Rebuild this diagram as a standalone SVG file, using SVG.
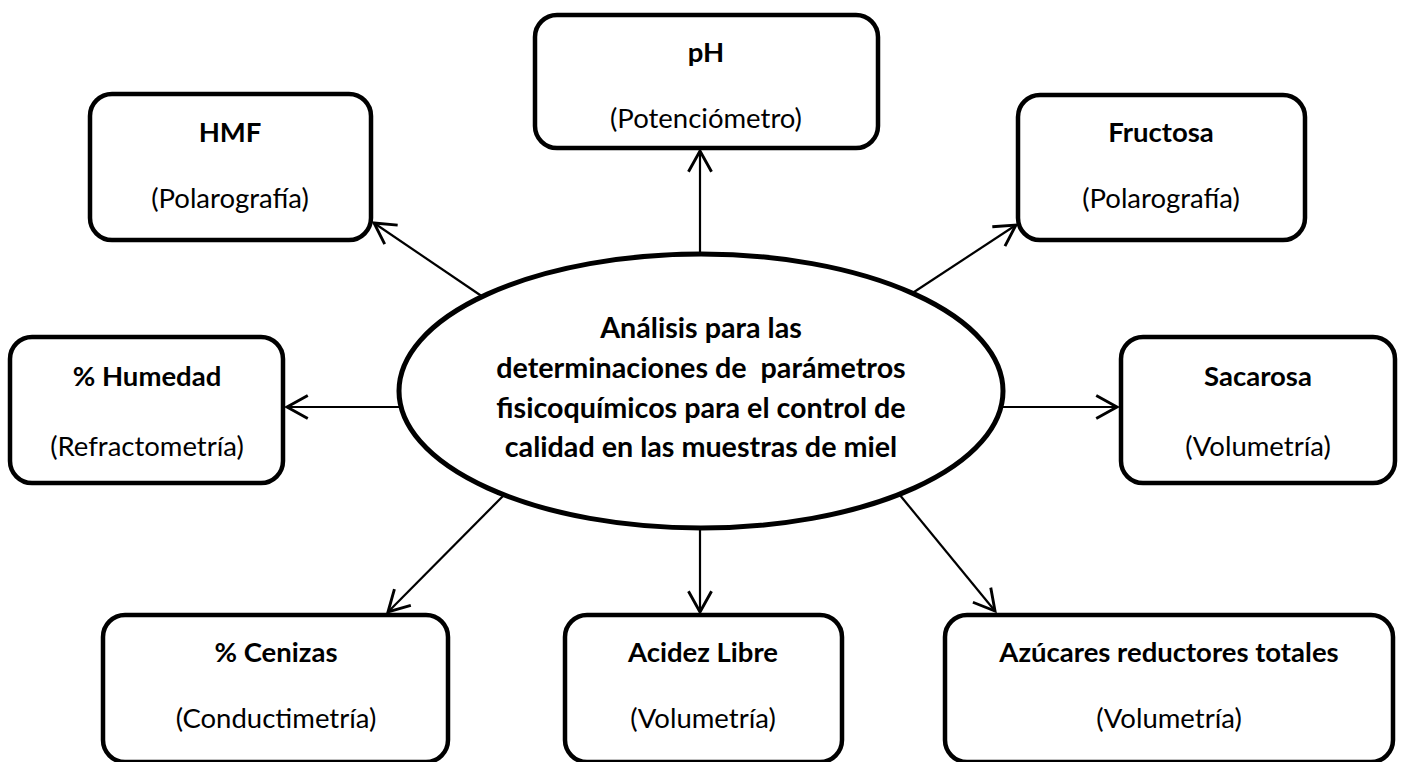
<svg xmlns="http://www.w3.org/2000/svg" width="1405" height="762" viewBox="0 0 1405 762">
<style>
.box{fill:#fff;stroke:#000;stroke-width:4.5}
.ell{fill:#fff;stroke:#000;stroke-width:5}
.t{font-family:Lato,"Open Sans","Liberation Sans",sans-serif;font-size:27.5px;fill:#000;text-anchor:middle}
.e{font-size:28.7px}
.b{font-weight:bold}
.c{fill:none;stroke:#000;stroke-width:2.2}
</style>
<defs>
<marker id="arr" markerUnits="userSpaceOnUse" markerWidth="30" markerHeight="30" viewBox="-22 -12 26 24" refX="0" refY="0" orient="auto">
<path d="M-18,-10 L0,0 L-18,10" fill="none" stroke="#000" stroke-width="2.5"/>
</marker>
</defs>
<rect width="1405" height="762" fill="#fff"/>
<g id="connectors">
<line class="c" x1="700" y1="254" x2="700" y2="151" marker-end="url(#arr)"/>
<line class="c" x1="483" y1="297" x2="374" y2="223" marker-end="url(#arr)"/>
<line class="c" x1="911" y1="294" x2="1016" y2="225" marker-end="url(#arr)"/>
<line class="c" x1="401" y1="407" x2="287" y2="407" marker-end="url(#arr)"/>
<line class="c" x1="1001" y1="407" x2="1117" y2="407" marker-end="url(#arr)"/>
<line class="c" x1="503" y1="496" x2="388" y2="612" marker-end="url(#arr)"/>
<line class="c" x1="700" y1="528" x2="700" y2="612" marker-end="url(#arr)"/>
<line class="c" x1="899" y1="494" x2="995" y2="611" marker-end="url(#arr)"/>
</g>
<g id="center">
<ellipse class="ell" cx="701" cy="391" rx="302" ry="137"/>
<text class="t b e" x="701" y="338">Análisis para las</text>
<text class="t b e" x="701" y="378" style="white-space:pre">determinaciones de  parámetros</text>
<text class="t b e" x="701" y="418">fisicoquímicos para el control de</text>
<text class="t b e" x="701" y="457">calidad en las muestras de miel</text>
</g>
<g id="ph">
<rect class="box" x="535" y="15" width="343" height="133" rx="22"/>
<text class="t b" x="706" y="62">pH</text>
<text class="t" x="706" y="128">(Potenciómetro)</text>
</g>
<g id="hmf">
<rect class="box" x="90" y="94" width="281" height="146" rx="22"/>
<text class="t b" x="230" y="142">HMF</text>
<text class="t" x="230" y="208">(Polarografía)</text>
</g>
<g id="fructosa">
<rect class="box" x="1018" y="95" width="287" height="145" rx="22"/>
<text class="t b" x="1161" y="142">Fructosa</text>
<text class="t" x="1161" y="208">(Polarografía)</text>
</g>
<g id="humedad">
<rect class="box" x="10" y="337" width="273" height="146" rx="22"/>
<text class="t b" x="147" y="386">% Humedad</text>
<text class="t" x="147" y="456">(Refractometría)</text>
</g>
<g id="sacarosa">
<rect class="box" x="1121" y="337" width="274" height="146" rx="22"/>
<text class="t b" x="1258" y="386">Sacarosa</text>
<text class="t" x="1258" y="456">(Volumetría)</text>
</g>
<g id="cenizas">
<rect class="box" x="103" y="615" width="345" height="147" rx="22"/>
<text class="t b" x="276" y="662">% Cenizas</text>
<text class="t" x="276" y="728">(Conductimetría)</text>
</g>
<g id="acidez">
<rect class="box" x="565" y="615" width="277" height="147" rx="22"/>
<text class="t b" x="703" y="662">Acidez Libre</text>
<text class="t" x="703" y="728">(Volumetría)</text>
</g>
<g id="azucares">
<rect class="box" x="945" y="615" width="448" height="147" rx="22"/>
<text class="t b" x="1169" y="662">Azúcares reductores totales</text>
<text class="t" x="1169" y="728">(Volumetría)</text>
</g>
</svg>
